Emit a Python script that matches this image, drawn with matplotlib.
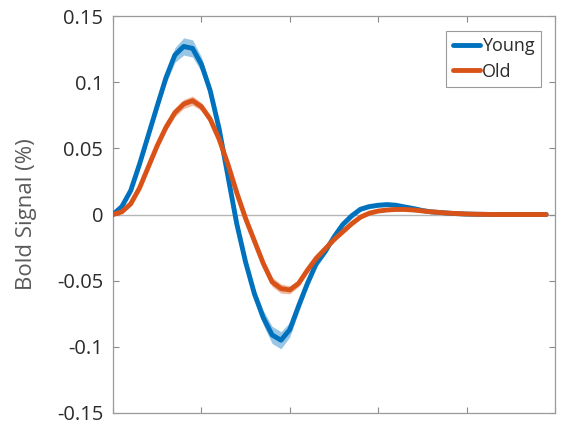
import matplotlib
matplotlib.use("Agg")
import matplotlib.pyplot as plt
import numpy as np
from matplotlib.ticker import FuncFormatter

# time (s), sampled every 0.5 s
time_s = [i * 0.5 for i in range(50)]

young = [0.0, 0.006, 0.018, 0.038, 0.060, 0.082, 0.1035, 0.1205, 0.127, 0.1255,
         0.1135, 0.0935, 0.065, 0.029, -0.007, -0.036, -0.060, -0.078, -0.091, -0.095,
         -0.087, -0.069, -0.052, -0.037, -0.028, -0.017, -0.0075, -0.001, 0.004, 0.006,
         0.007, 0.0075, 0.007, 0.0057, 0.0045, 0.003, 0.002, 0.0015, 0.001, 0.0006,
         0.0003, 0.0002, 0.0001, 0.0, 0.0, 0.0, 0.0, 0.0, 0.0, 0.0]

old = [0.0, 0.002, 0.008, 0.020, 0.036, 0.052, 0.066, 0.077, 0.0835, 0.086,
       0.0815, 0.072, 0.057, 0.038, 0.0165, -0.003, -0.020, -0.037, -0.051, -0.056,
       -0.057, -0.052, -0.042, -0.033, -0.026, -0.019, -0.013, -0.007, -0.002, 0.001,
       0.0026, 0.0034, 0.0038, 0.0038, 0.0034, 0.0027, 0.002, 0.0015, 0.001, 0.0007,
       0.0004, 0.0002, 0.0001, 0.0, 0.0, 0.0, 0.0, 0.0, 0.0, 0.0]

young_sem = [0.0, 0.001, 0.002, 0.003, 0.003, 0.004, 0.0045, 0.0055, 0.0065, 0.0065,
             0.0055, 0.0045, 0.0035, 0.003, 0.003, 0.0035, 0.0045, 0.0055, 0.0065, 0.0065,
             0.0055, 0.0045, 0.0035, 0.003, 0.0025, 0.002, 0.002, 0.002, 0.0015, 0.0015,
             0.0015, 0.0015, 0.0015, 0.0015, 0.0015, 0.0015, 0.001, 0.001, 0.001, 0.001,
             0.001, 0.0008, 0.0006, 0.0005, 0.0005, 0.0005, 0.0005, 0.0005, 0.0005, 0.0005]

old_sem = [0.0, 0.0005, 0.001, 0.002, 0.002, 0.0025, 0.003, 0.003, 0.0035, 0.0035,
           0.003, 0.003, 0.0025, 0.002, 0.002, 0.002, 0.0025, 0.003, 0.0035, 0.0035,
           0.003, 0.0025, 0.002, 0.002, 0.0015, 0.0015, 0.0015, 0.0015, 0.001, 0.001,
           0.001, 0.001, 0.001, 0.001, 0.001, 0.001, 0.0008, 0.0008, 0.0008, 0.0008,
           0.0006, 0.0005, 0.0005, 0.0005, 0.0005, 0.0005, 0.0005, 0.0005, 0.0005, 0.0005]

series_names = ["Young", "Old"]
y_ticks = [-0.15, -0.1, -0.05, 0, 0.05, 0.1, 0.15]
x_ticks = [0, 5, 10, 15, 20, 25]

BLUE = "#0072BD"
ORANGE = "#D95319"

plt.rcParams['font.family'] = ['Open Sans', 'DejaVu Sans']

fig = plt.figure(figsize=(5.62, 4.24), dpi=100)
ax = fig.add_axes([113 / 562, 1 - 413 / 424, 442 / 562, 397 / 424])

t = np.array(time_s)
ax.axhline(0, color="#b5b5b5", lw=1.0, zorder=1)
for vals, sem, col, name in [(young, young_sem, BLUE, series_names[0]),
                             (old, old_sem, ORANGE, series_names[1])]:
    v = np.array(vals)
    s = np.array(sem)
    ax.fill_between(t, v - s, v + s, color=col, alpha=0.4, lw=0, zorder=2)
    ax.plot(t, v, color=col, lw=3.5, label=name, zorder=3,
            solid_capstyle='round', solid_joinstyle='round')

ax.set_xlim(0, 25)
ax.set_ylim(-0.15, 0.15)
ax.set_xticks(x_ticks)
ax.set_xticklabels([])
ax.set_yticks(y_ticks)

def fmt(v, pos):
    if abs(v) < 1e-9:
        return "0"
    s = ("%.2f" % v).rstrip("0")
    return s.replace("\u2212", "-")

ax.yaxis.set_major_formatter(FuncFormatter(fmt))
ax.tick_params(direction="in", length=4, width=0.8, color="#8a8a8a",
               top=True, right=True, labelsize=14.5, labelcolor="#2b2b2b", pad=7)
for sp in ax.spines.values():
    sp.set_color("#9a9a9a")
    sp.set_linewidth(0.9)

ax.set_ylabel("Bold Signal (%)", fontsize=16, color="#5a5a5a", labelpad=14)

leg = ax.legend(loc="upper right", bbox_to_anchor=(0.968, 0.962), borderaxespad=0,
                fontsize=13, handlelength=1.5, handletextpad=0.12, borderpad=0.35,
                labelspacing=0.4, fancybox=False, framealpha=1, edgecolor="#9a9a9a")
leg.get_frame().set_linewidth(0.8)
for line in leg.get_lines():
    line.set_linewidth(3.5)
for txt in leg.get_texts():
    txt.set_color("#2b2b2b")

fig.savefig("out.png", dpi=100)
